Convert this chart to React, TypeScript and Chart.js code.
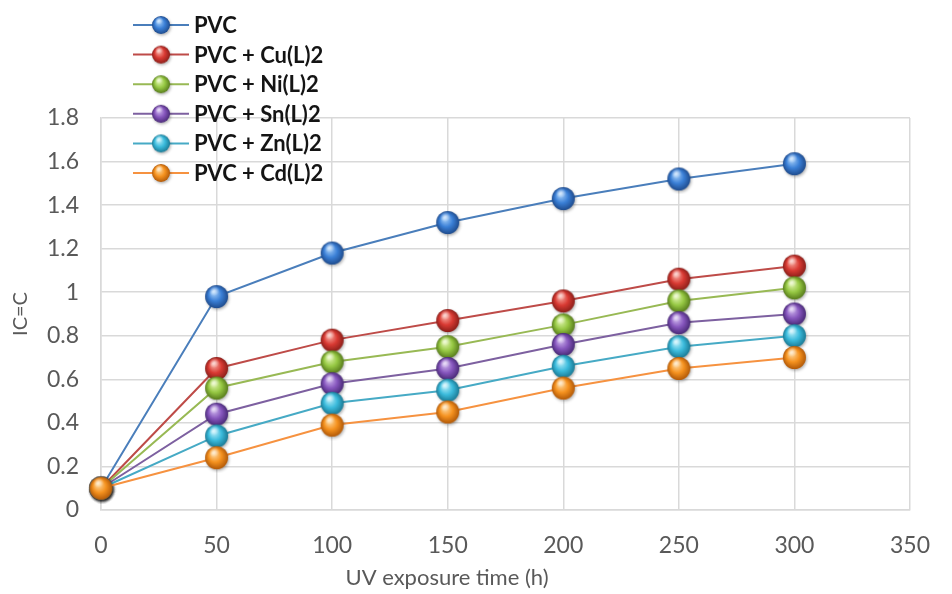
import React, { useEffect, useRef } from "react";
import { Chart, registerables } from "chart.js";

Chart.register(...registerables);

// ---- data ----
const times = [0, 50, 100, 150, 200, 250, 300];
const seriesNames = ["PVC", "PVC + Cu(L)2", "PVC + Ni(L)2", "PVC + Sn(L)2", "PVC + Zn(L)2", "PVC + Cd(L)2"];
const pvc = [0.1, 0.98, 1.18, 1.32, 1.43, 1.52, 1.59];
const pvcCu = [0.1, 0.65, 0.78, 0.87, 0.96, 1.06, 1.12];
const pvcNi = [0.1, 0.56, 0.68, 0.75, 0.85, 0.96, 1.02];
const pvcSn = [0.1, 0.44, 0.58, 0.65, 0.76, 0.86, 0.9];
const pvcZn = [0.1, 0.34, 0.49, 0.55, 0.66, 0.75, 0.8];
const pvcCd = [0.1, 0.24, 0.39, 0.45, 0.56, 0.65, 0.7];
const xTicks = [0, 50, 100, 150, 200, 250, 300, 350];
const yTicks = [0, 0.2, 0.4, 0.6, 0.8, 1, 1.2, 1.4, 1.6, 1.8];
const yTickLabels = ["0", "0.2", "0.4", "0.6", "0.8", "1", "1.2", "1.4", "1.6", "1.8"];
const xTitle = "UV exposure time (h)";
const yTitle = "IC=C";

const seriesValues = [pvc, pvcCu, pvcNi, pvcSn, pvcZn, pvcCd];

// ---- styles ----
const lineColors = ["#4a7ebb", "#be4b48", "#98b954", "#7d60a0", "#46aac5", "#f69240"];
const sphereBase = ["#3a7fd6", "#d93a33", "#96c843", "#8656bd", "#3bbbdc", "#f5921f"];
const sphereLight = ["#a9d2fb", "#f9b0a6", "#e2f6b0", "#d2baf0", "#bdf0fb", "#fedca5"];
const sphereDark = ["#1f4c8e", "#8c1f1a", "#587d1c", "#4a2a78", "#1b7b96", "#b35a08"];

const FONT = "Lato, 'Open Sans', 'DejaVu Sans', sans-serif";

function makeSphere(i: number, d: number): HTMLCanvasElement {
  const pad = 4;
  const size = Math.ceil(d + pad * 2);
  const c = document.createElement("canvas");
  c.width = size;
  c.height = size;
  const ctx = c.getContext("2d")!;
  const r = d / 2;
  const cx = size / 2;
  const cy = size / 2;
  ctx.save();
  ctx.shadowColor = "rgba(0,0,0,0.3)";
  ctx.shadowBlur = 3;
  ctx.shadowOffsetX = 1;
  ctx.shadowOffsetY = 1.5;
  const g = ctx.createRadialGradient(cx - r * 0.3, cy - r * 0.4, r * 0.05, cx, cy, r);
  g.addColorStop(0, sphereLight[i]);
  g.addColorStop(0.55, sphereBase[i]);
  g.addColorStop(1, sphereDark[i]);
  ctx.fillStyle = g;
  ctx.beginPath();
  ctx.arc(cx, cy, r, 0, Math.PI * 2);
  ctx.fill();
  ctx.restore();
  const hx = cx - r * 0.2;
  const hy = cy - r * 0.5;
  const h = ctx.createRadialGradient(hx, hy, 0, hx, hy, r * 0.45);
  h.addColorStop(0, "rgba(255,255,255,0.6)");
  h.addColorStop(1, "rgba(255,255,255,0)");
  ctx.fillStyle = h;
  ctx.beginPath();
  ctx.arc(cx, cy, r, 0, Math.PI * 2);
  ctx.fill();
  return c;
}

export default function App() {
  const canvasRef = useRef<HTMLCanvasElement | null>(null);

  useEffect(() => {
    let chart: Chart | null = null;
    let cancelled = false;

    const build = () => {
      if (cancelled || !canvasRef.current) return;
      const spheres = seriesValues.map((_, i) => makeSphere(i, 23));
      const legendSpheres = seriesValues.map((_, i) => makeSphere(i, 18));

      const overlayPlugin = {
        id: "overlay",
        afterDraw(ch: any) {
          const ctx = ch.ctx as CanvasRenderingContext2D;
          ctx.save();
          seriesNames.forEach((name, i) => {
            const y = 25 + i * 29.6;
            ctx.strokeStyle = lineColors[i];
            ctx.lineWidth = 2;
            ctx.beginPath();
            ctx.moveTo(133, y);
            ctx.lineTo(189, y);
            ctx.stroke();
            const s = legendSpheres[i];
            ctx.drawImage(s, 161 - s.width / 2, y - s.height / 2);
            ctx.fillStyle = "#141414";
            ctx.font = `bold 22px ${FONT}`;
            ctx.textAlign = "left";
            ctx.textBaseline = "middle";
            ctx.fillText(name, 194, y + 1);
          });
          ctx.fillStyle = "#595959";
          ctx.font = `22px ${FONT}`;
          ctx.textAlign = "center";
          ctx.textBaseline = "middle";
          ctx.fillText(xTitle, 447, 578);
          ctx.restore();
        },
      };

      chart = new Chart(canvasRef.current, {
        type: "line",
        data: {
          datasets: seriesValues.map((vals, i) => ({
            label: seriesNames[i],
            data: times.map((t, j) => ({ x: t, y: vals[j] })),
            borderColor: lineColors[i],
            backgroundColor: sphereBase[i],
            borderWidth: 2,
            pointStyle: spheres[i] as any,
            pointRadius: 11,
            pointHoverRadius: 11,
            clip: false as any,
            order: seriesValues.length - 1 - i,
            tension: 0,
          })),
        },
        options: {
          animation: false,
          responsive: false,
          maintainAspectRatio: false,
          events: [],
          layout: { padding: { top: 118, right: 20, bottom: 0, left: 0 } },
          plugins: {
            legend: { display: false },
            tooltip: { enabled: false },
            title: { display: false },
          },
          scales: {
            x: {
              type: "linear",
              min: 0,
              max: 350,
              afterBuildTicks: (scale: any) => {
                scale.ticks = xTicks.map((v) => ({ value: v }));
              },
              ticks: {
                color: "#595959",
                font: { family: FONT, size: 23 },
                padding: 22,
                maxRotation: 0,
                autoSkip: false,
                callback: (v: any) => String(v),
              },
              grid: { color: "#d9d9d9", lineWidth: 1.5, drawTicks: false },
              border: { color: "#d9d9d9", width: 1.5 },
              afterFit: (scale: any) => {
                scale.height = 84;
              },
            },
            y: {
              type: "linear",
              min: 0,
              max: 1.8,
              afterBuildTicks: (scale: any) => {
                scale.ticks = yTicks.map((v) => ({ value: v }));
              },
              ticks: {
                color: "#595959",
                font: { family: FONT, size: 23 },
                padding: 22,
                autoSkip: false,
                callback: (v: any) => {
                  const idx = yTicks.findIndex((t) => Math.abs(t - v) < 1e-6);
                  return idx >= 0 ? yTickLabels[idx] : "";
                },
              },
              grid: { color: "#d9d9d9", lineWidth: 1.5, drawTicks: false },
              border: { color: "#d9d9d9", width: 1.5 },
              title: {
                display: true,
                text: yTitle,
                color: "#595959",
                font: { family: FONT, size: 20 },
                padding: { top: 9, bottom: 0 },
              },
              afterFit: (scale: any) => {
                scale.width = 101;
              },
            },
          },
        },
        plugins: [overlayPlugin],
      } as any);
    };

    const fontsApi = (document as any).fonts;
    if (fontsApi && fontsApi.load) {
      Promise.all([
        fontsApi.load(`23px Lato`),
        fontsApi.load(`bold 22px Lato`),
      ])
        .catch(() => null)
        .then(() => build());
    } else {
      build();
    }

    return () => {
      cancelled = true;
      if (chart) chart.destroy();
    };
  }, []);

  return (
    <div style={{ position: "fixed", left: 0, top: 0, width: 952, height: 594, background: "#fff" }}>
      <canvas ref={canvasRef} width={952} height={594} style={{ display: "block", width: 952, height: 594 }} />
    </div>
  );
}
